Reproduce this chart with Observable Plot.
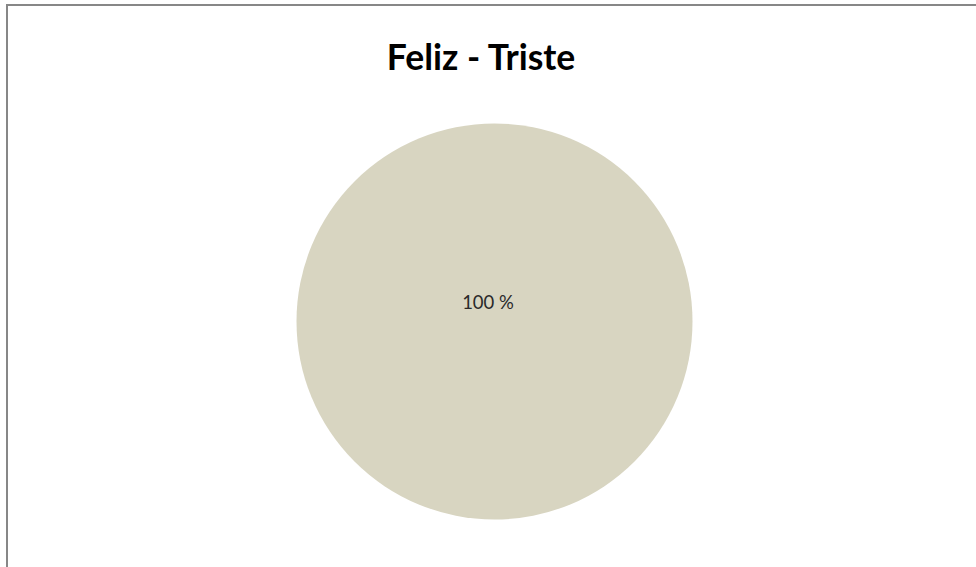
<!DOCTYPE html>
<html>
<head>
<meta charset="utf-8">
<script src="https://cdn.jsdelivr.net/npm/d3@7"></script>
<script src="https://cdn.jsdelivr.net/npm/@observablehq/plot@0.6"></script>
<style>
  html, body { margin: 0; padding: 0; background: #fff; overflow: hidden; }
  #wrap { position: relative; width: 976px; height: 567px; overflow: hidden; }
  #frame { position: absolute; left: 6px; top: 4px; width: 1000px; height: 600px; border: 2px solid #878787; box-sizing: border-box; }
  #title { position: absolute; left: 0; top: 37px; width: 962px; text-align: center;
           font-family: Lato, "Open Sans", sans-serif; font-weight: bold; font-size: 35.5px; color: #000; line-height: 40px; }
  #chart { position: absolute; left: 0; top: 0; }
</style>
</head>
<body>
<div id="wrap">
  <div id="frame"></div>
  <div id="chart"></div>
  <div id="title"></div>
</div>
<script>
const titleText = "Feliz - Triste";
const categories = ["Feliz"];
const values = [100];
const labels = ["100 %"];
const colors = ["#D8D5C1"];

document.getElementById("title").textContent = titleText;

const data = categories.map((c, i) => ({category: c, value: values[i], label: labels[i]}));
const arcs = d3.pie().sort(null).value(d => d.value)(data);

function pieMark(index, scales, values, dimensions) {
  const cx = scales.x(0), cy = scales.y(0);
  const r = Math.abs(scales.x(1) - scales.x(0));
  const arcGen = d3.arc().innerRadius(0).outerRadius(r);
  const g = d3.create("svg:g").attr("transform", `translate(${cx},${cy})`);
  g.selectAll("path").data(arcs).join("path")
    .attr("d", arcGen)
    .attr("fill", (d, i) => colors[i % colors.length]);
  return g.node();
}

const plot = Plot.plot({
  width: 976,
  height: 567,
  marginLeft: 296.5,
  marginRight: 283.5,
  marginTop: 124.5,
  marginBottom: 48.5,
  x: {domain: [-1, 1], axis: null},
  y: {domain: [-1, 1], axis: null},
  style: {background: "transparent", overflow: "visible"},
  marks: [
    pieMark,
    Plot.text(arcs, {
      x: () => 0, y: () => 0,
      text: d => d.data.label,
      dx: -7, dy: -19,
      fontSize: 18.5,
      fontFamily: "Lato, 'Open Sans', sans-serif",
      fill: "#2a2a2a"
    })
  ]
});
document.getElementById("chart").appendChild(plot);
</script>
</body>
</html>
